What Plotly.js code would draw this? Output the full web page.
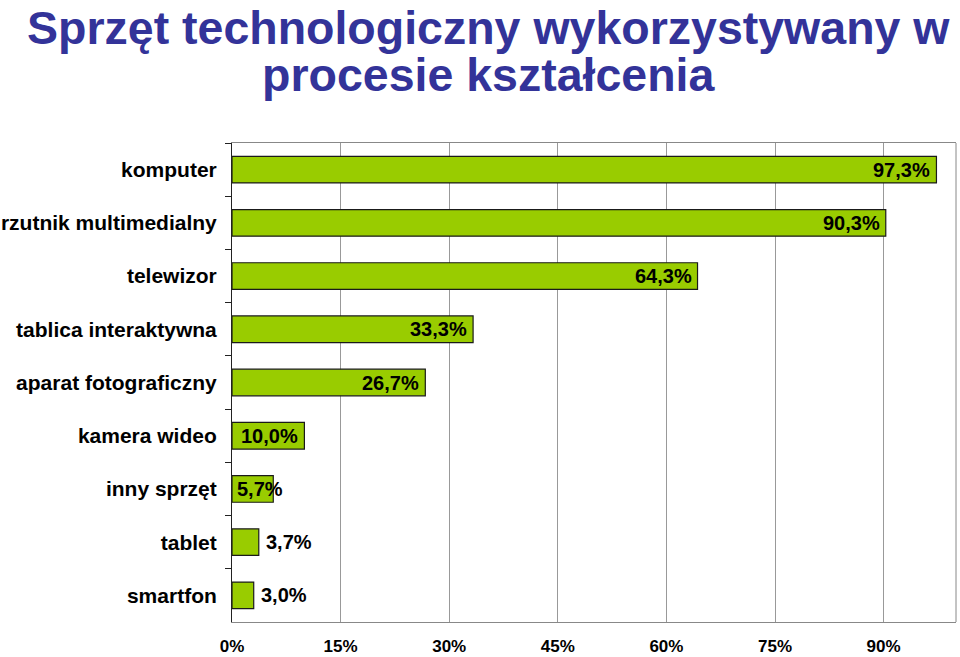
<!DOCTYPE html>
<html>
<head>
<meta charset="utf-8">
<script src="https://cdn.plot.ly/plotly-3.0.1.min.js"></script>
<style>html,body{margin:0;padding:0;background:#fff;}#chart{width:960px;height:657px;}</style>
</head>
<body>
<div id="chart"></div>
<script>
const titleLines = ["Sprzęt technologiczny wykorzystywany w", "procesie kształcenia"];
const categories = ["komputer","rzutnik multimedialny","telewizor","tablica interaktywna","aparat fotograficzny","kamera wideo","inny sprzęt","tablet","smartfon"];
const values = [97.3, 90.3, 64.3, 33.3, 26.7, 10.0, 5.7, 3.7, 3.0];
const labelPlacement = ["in","in","in","in","in","in","start","out","out"];
const tickValues = [0, 15, 30, 45, 60, 75, 90];
const tickLabels = ["0%","15%","30%","45%","60%","75%","90%"];

const fmt = v => v.toFixed(1).replace('.', ',') + '%';
const font = "Liberation Sans, Arial, sans-serif";

const annotations = values.map((v, i) => {
  const p = labelPlacement[i];
  let x = v, xanchor = 'right', xshift = -4;
  if (p === 'out') { xanchor = 'left'; xshift = 5; }
  if (p === 'start') { x = 0; xanchor = 'left'; xshift = 3; }
  return {x: x, y: categories[i], xref: 'x', yref: 'y', text: '<b>' + fmt(v) + '</b>',
    showarrow: false, xanchor: xanchor, yanchor: 'middle', xshift: xshift,
    font: {family: font, size: 20, color: '#000'}};
});

const titleY = [1.2401, 1.1420];
titleLines.forEach((t, i) => {
  annotations.push({xref: 'paper', yref: 'paper', x: 0.354, y: titleY[i], xanchor: 'center', yanchor: 'middle',
    text: '<b>' + t + '</b>', showarrow: false,
    font: {family: font, size: 46.5, color: '#333399'}});
});

const trace = {
  type: 'bar', orientation: 'h', x: values, y: categories,
  marker: {color: '#99CC00', line: {color: '#1a1a1a', width: 1.2}},
  hoverinfo: 'skip'
};

const layout = {
  width: 960, height: 657,
  margin: {l: 232, r: 4, t: 143, b: 35},
  paper_bgcolor: '#fff', plot_bgcolor: '#fff',
  bargap: 0.5,
  showlegend: false,
  xaxis: {range: [0, 100], tickvals: tickValues, ticktext: tickLabels,
    showgrid: true, gridcolor: '#999', gridwidth: 1, zeroline: false,
    showline: true, linecolor: '#888', linewidth: 1, mirror: true,
    ticks: '', ticklabelstandoff: 9, tickfont: {family: font, size: 17, color: '#000', weight: 'bold'},
    fixedrange: true},
  yaxis: {type: 'category', autorange: 'reversed', showline: true, linecolor: '#222', linewidth: 1,
    ticks: 'outside', ticklen: 6, tickcolor: '#222', tickson: 'boundaries',
    showgrid: false, zeroline: false, ticklabelstandoff: 10,
    tickfont: {family: font, size: 21, color: '#000', weight: 'bold'}, fixedrange: true},
  shapes: [{type: 'line', xref: 'paper', yref: 'paper', x0: 1, x1: 1, y0: 0, y1: 1,
    line: {color: '#888', width: 1}}],
  annotations: annotations
};

Plotly.newPlot('chart', [trace], layout, {displayModeBar: false, staticPlot: true});
</script>
</body>
</html>
